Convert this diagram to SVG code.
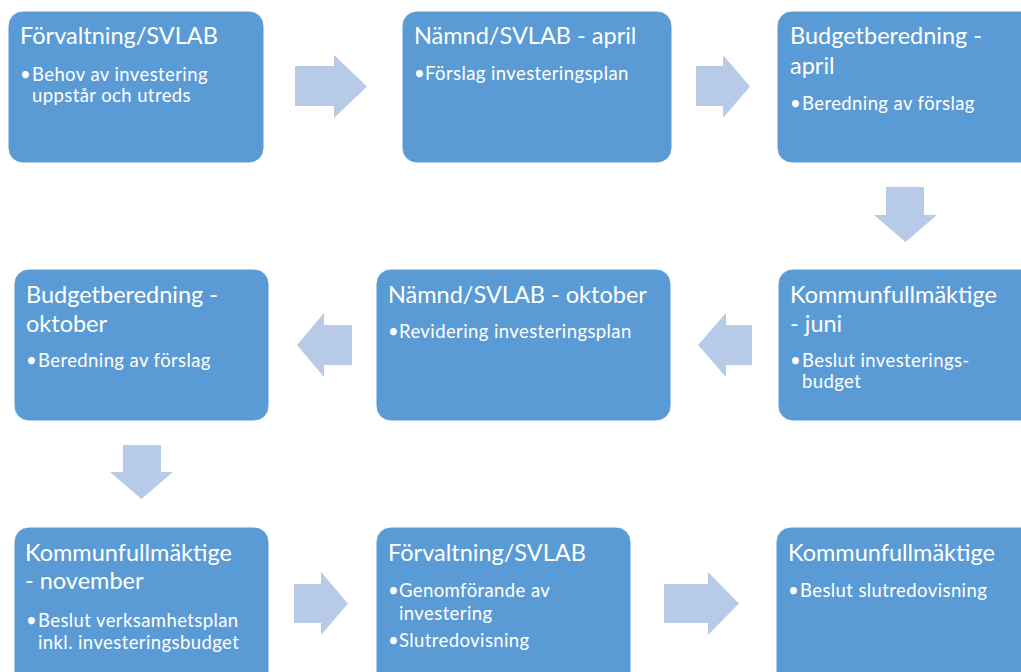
<svg xmlns="http://www.w3.org/2000/svg" width="1021" height="672" viewBox="0 0 1021 672">
<style>
.box{fill:#5B9BD5;stroke:#FFFFFF;stroke-width:1}
.arr{fill:#B7CBE8}
.t{font-family:Lato,"Liberation Sans",sans-serif;fill:#FFFFFF;font-size:23.5px}
.b{font-family:Lato,"Liberation Sans",sans-serif;fill:#FFFFFF;font-size:18.5px;letter-spacing:0.4px}
</style>
<rect width="1021" height="672" fill="#FFFFFF"/>
<g id="connectors">
<polygon class="arr" points="295,66 334,66 334,55 367,86.5 334,118 334,106 295,106"/>
<polygon class="arr" points="696,66 723,66 723,55 750,86.5 723,118 723,106 696,106"/>
<polygon class="arr" points="886,187 924,187 924,215 937,215 905.5,242 874,215 886,215"/>
<polygon class="arr" points="752,325 726,325 726,313 698,345 726,377 726,365 752,365"/>
<polygon class="arr" points="352,325 324,325 324,313 297,345 324,377 324,365 352,365"/>
<polygon class="arr" points="123,445 161,445 161,472 173,472 141.5,499 110,472 123,472"/>
<polygon class="arr" points="294,584 321,584 321,572 348,603.5 321,635 321,623 294,623"/>
<polygon class="arr" points="664,584 708,584 708,572 739,603.5 708,635 708,623 664,623"/>
</g>
<g id="n1">
<rect class="box" x="8" y="11" width="256" height="152" rx="15"/>
<text class="t" x="20" y="44">Förvaltning/SVLAB</text>
<text class="b" x="20" y="81">•</text>
<text class="b" x="32" y="81">Behov av investering</text>
<text class="b" x="32" y="102">uppstår och utreds</text>
</g>
<g id="n2">
<rect class="box" x="402" y="11" width="270" height="152" rx="15"/>
<text class="t" x="414" y="44">Nämnd/SVLAB - april</text>
<text class="b" x="414" y="80">•</text>
<text class="b" x="425" y="80">Förslag investeringsplan</text>
</g>
<g id="n3">
<rect class="box" x="777" y="11" width="270" height="152" rx="15"/>
<text class="t" x="790" y="44">Budgetberedning -</text>
<text class="t" x="790" y="74">april</text>
<text class="b" x="790" y="110">•</text>
<text class="b" x="802" y="110">Beredning av förslag</text>
</g>
<g id="n4">
<rect class="box" x="14" y="269" width="255" height="152" rx="15"/>
<text class="t" x="26" y="303">Budgetberedning -</text>
<text class="t" x="26" y="332">oktober</text>
<text class="b" x="26" y="367">•</text>
<text class="b" x="38" y="367">Beredning av förslag</text>
</g>
<g id="n5">
<rect class="box" x="376" y="269" width="295" height="152" rx="15"/>
<text class="t" x="388" y="303">Nämnd/SVLAB - oktober</text>
<text class="b" x="388" y="338">•</text>
<text class="b" x="399" y="338">Revidering investeringsplan</text>
</g>
<g id="n6">
<rect class="box" x="778" y="269" width="270" height="152" rx="15"/>
<text class="t" x="790" y="303">Kommunfullmäktige</text>
<text class="t" x="790" y="332">- juni</text>
<text class="b" x="790" y="367">•</text>
<text class="b" x="802" y="367">Beslut investerings-</text>
<text class="b" x="802" y="388">budget</text>
</g>
<g id="n7">
<rect class="box" x="14" y="527" width="255" height="160" rx="15"/>
<text class="t" x="25" y="561">Kommunfullmäktige</text>
<text class="t" x="25" y="589">- november</text>
<text class="b" x="26" y="627">•</text>
<text class="b" x="38" y="627">Beslut verksamhetsplan</text>
<text class="b" x="38" y="649">inkl. investeringsbudget</text>
</g>
<g id="n8">
<rect class="box" x="376" y="527" width="255" height="160" rx="15"/>
<text class="t" x="388" y="561">Förvaltning/SVLAB</text>
<text class="b" x="388" y="597">•</text>
<text class="b" x="399" y="597">Genomförande av</text>
<text class="b" x="399" y="620">investering</text>
<text class="b" x="388" y="647">•</text>
<text class="b" x="399" y="647">Slutredovisning</text>
</g>
<g id="n9">
<rect class="box" x="776" y="527" width="270" height="160" rx="15"/>
<text class="t" x="788" y="561">Kommunfullmäktige</text>
<text class="b" x="788" y="597">•</text>
<text class="b" x="800" y="597">Beslut slutredovisning</text>
</g>
</svg>
